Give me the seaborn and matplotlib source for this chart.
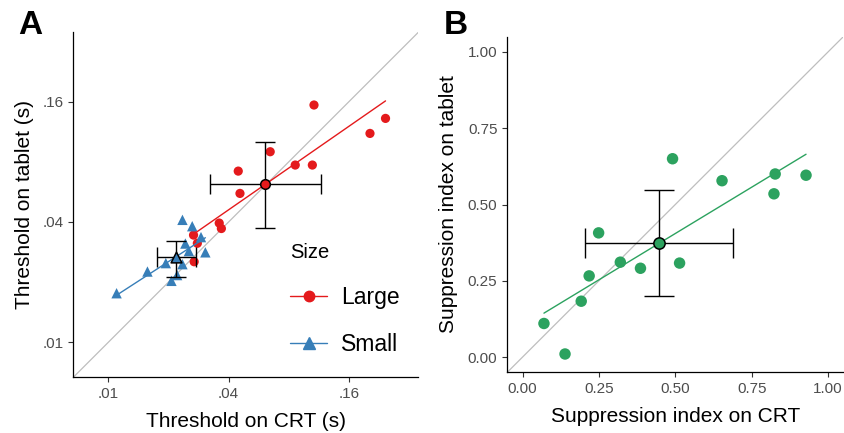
import numpy as np
import pandas as pd
import matplotlib
matplotlib.use("Agg")
import matplotlib.pyplot as plt
from matplotlib.lines import Line2D
import seaborn as sns

# Panel A: thresholds (s)
large_crt = [0.107, 0.244, 0.204, 0.0646, 0.0862, 0.105, 0.0447, 0.0456,
             0.0359, 0.0368, 0.0267, 0.0279, 0.0269]
large_tablet = [0.154, 0.132, 0.111, 0.0899, 0.0771, 0.0771, 0.0719, 0.0556,
                0.0395, 0.0371, 0.0344, 0.0313, 0.0253]
small_crt = [0.0110, 0.0157, 0.0194, 0.0207, 0.0221, 0.0235, 0.0253, 0.0235,
             0.0263, 0.0291, 0.0306, 0.0243]
small_tablet = [0.0176, 0.0226, 0.0249, 0.0203, 0.0217, 0.0246, 0.0286, 0.0410,
                0.0381, 0.0336, 0.0282, 0.0312]

# error bar ends (low, high)
large_crt_bar = [0.0324, 0.116]
large_tablet_bar = [0.0375, 0.101]
small_crt_bar = [0.0175, 0.0274]
small_tablet_bar = [0.0213, 0.0322]

# Panel B: suppression index
supp_crt = [0.070, 0.139, 0.192, 0.218, 0.249, 0.320, 0.386, 0.491, 0.514,
            0.653, 0.827, 0.823, 0.928]
supp_tablet = [0.110, 0.010, 0.183, 0.266, 0.407, 0.311, 0.291, 0.650, 0.308,
               0.578, 0.600, 0.535, 0.596]
supp_crt_bar = [0.205, 0.689]
supp_tablet_bar = [0.199, 0.547]

size_labels = ["Large", "Small"]
a_ticks = [0.01, 0.04, 0.16]
a_ticklabels = [".01", ".04", ".16"]
b_ticks = [0.0, 0.25, 0.5, 0.75, 1.0]

RED = "#E41A1C"
BLUE = "#377EB8"
GREEN = "#2CA25F"

sns.set_theme(style="ticks")
plt.rcParams["font.family"] = ["Liberation Sans", "DejaVu Sans"]
plt.rcParams["text.color"] = "black"
plt.rcParams["axes.labelcolor"] = "black"

W, H = 845, 433
fig = plt.figure(figsize=(W / 100, H / 100), dpi=100)
ax1 = fig.add_axes([73.3 / W, (H - 377.3) / H, 345 / W, 345 / H])
ax2 = fig.add_axes([507.3 / W, (H - 372.3) / H, 336 / W, 335.6 / H])

# ---- Panel A
df = pd.DataFrame({
    "crt": large_crt + small_crt,
    "tablet": large_tablet + small_tablet,
    "Size": ["Large"] * len(large_crt) + ["Small"] * len(small_crt),
})
ax1.set_xscale("log")
ax1.set_yscale("log")
lo, hi = 0.00668, 0.356
ax1.set_xlim(lo, hi)
ax1.set_ylim(lo, hi)
ax1.axline((0.01, 0.01), (0.16, 0.16), color="#BEBEBE", lw=0.9, zorder=1)

groups = {
    "Large": dict(color=RED, marker="o", s=44, bars=(large_crt_bar, large_tablet_bar)),
    "Small": dict(color=BLUE, marker="^", s=56, bars=(small_crt_bar, small_tablet_bar)),
}
for name in size_labels:
    g = groups[name]
    sub = df[df["Size"] == name]
    sns.scatterplot(data=sub, x="crt", y="tablet", color=g["color"], marker=g["marker"],
                    s=g["s"], edgecolor="none", linewidth=0, legend=False, ax=ax1, zorder=2)
    # regression in log-log space
    lx, ly = np.log(sub["crt"]), np.log(sub["tablet"])
    b, a = np.polyfit(lx, ly, 1)
    xs = np.array([sub["crt"].min(), sub["crt"].max()])
    ax1.plot(xs, np.exp(a + b * np.log(xs)), color=g["color"], lw=1, zorder=3)
    gx, gy = np.exp(lx.mean()), np.exp(ly.mean())
    xb, yb = g["bars"]
    ax1.errorbar(gx, gy, xerr=[[gx - xb[0]], [xb[1] - gx]], yerr=[[gy - yb[0]], [yb[1] - gy]],
                 fmt="none", ecolor="black", elinewidth=1, capsize=7.5, capthick=1, zorder=4)
    ax1.scatter(gx, gy, marker=g["marker"], s=g["s"] + 4, facecolor=g["color"],
                edgecolor="black", linewidths=1.1, zorder=5)

ax1.set_xticks(a_ticks)
ax1.set_xticklabels(a_ticklabels)
ax1.set_yticks(a_ticks)
ax1.set_yticklabels(a_ticklabels)
ax1.minorticks_off()
ax1.set_xlabel("Threshold on CRT (s)", fontsize=15, labelpad=7.5)
ax1.set_ylabel("Threshold on tablet (s)", fontsize=15, labelpad=6)

handles = [Line2D([], [], color=RED, marker="o", markersize=7.5, lw=1),
           Line2D([], [], color=BLUE, marker="^", markersize=8.5, lw=1)]
leg = ax1.legend(handles, size_labels, title="Size", loc="upper left",
                 bbox_to_anchor=(279 / W, 1 - 232 / H), bbox_transform=fig.transFigure,
                 frameon=False, fontsize=16.5, title_fontsize=14.5, borderpad=0,
                 handlelength=1.6, handletextpad=0.6, labelspacing=1.03)
leg._legend_box.align = "left"

# ---- Panel B
ax2.axline((0, 0), (1, 1), color="#BEBEBE", lw=0.9, zorder=1)
sns.regplot(x=supp_crt, y=supp_tablet, ci=None, color=GREEN, ax=ax2,
            scatter_kws={"s": 68, "edgecolor": "none", "alpha": 1, "zorder": 2},
            line_kws={"lw": 1, "zorder": 3})
mx, my = np.mean(supp_crt), np.mean(supp_tablet)
ax2.errorbar(mx, my, xerr=[[mx - supp_crt_bar[0]], [supp_crt_bar[1] - mx]],
             yerr=[[my - supp_tablet_bar[0]], [supp_tablet_bar[1] - my]],
             fmt="none", ecolor="black", elinewidth=1, capsize=11, capthick=1, zorder=4)
ax2.scatter(mx, my, marker="o", s=66, facecolor=GREEN, edgecolor="black",
            linewidths=1.1, zorder=5)
ax2.set_xlim(-0.05, 1.05)
ax2.set_ylim(-0.05, 1.05)
ax2.set_xticks(b_ticks)
ax2.set_yticks(b_ticks)
ax2.set_xticklabels([f"{t:.2f}" for t in b_ticks])
ax2.set_yticklabels([f"{t:.2f}" for t in b_ticks])
ax2.set_xlabel("Suppression index on CRT", fontsize=15, labelpad=8)
ax2.set_ylabel("Suppression index on tablet", fontsize=15, labelpad=7)

for ax in (ax1, ax2):
    sns.despine(ax=ax)
    for sp in ("left", "bottom"):
        ax.spines[sp].set_linewidth(0.9)
        ax.spines[sp].set_color("black")
    ax.tick_params(length=3.6, width=0.8, color="#333333", labelcolor="#4D4D4D",
                   labelsize=11, pad=3.5)

fig.text(18 / W, 1 - 25 / H, "A", fontsize=24, fontweight="bold", va="center", ha="left",
         color="black")
fig.text(444 / W, 1 - 25 / H, "B", fontsize=24, fontweight="bold", va="center", ha="left",
         color="black")

fig.savefig("out.png", dpi=100)
